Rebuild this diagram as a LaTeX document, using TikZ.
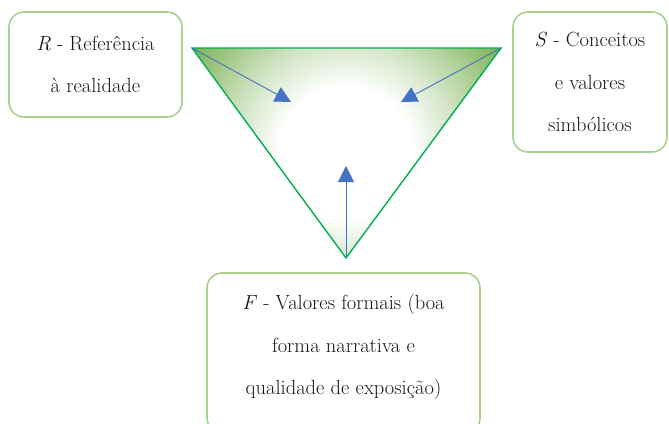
\documentclass[tikz,border=0pt]{standalone}
\usepackage{fontspec}
\usetikzlibrary{arrows.meta}
\definecolor{boxgreen}{HTML}{A9D18E}
\definecolor{edgegreen}{HTML}{00B050}
\definecolor{cornergreen}{HTML}{72AB48}
\definecolor{arrblue}{HTML}{4472C4}
\pgfdeclareradialshading{trishade}{\pgfpoint{0bp}{0bp}}{color(0bp)=(white); color(8.5bp)=(white); color(14bp)=(cornergreen!30!white); color(25bp)=(cornergreen); color(50bp)=(cornergreen)}
\begin{document}
\begin{tikzpicture}[x=1pt,y=-1pt,
  box/.style={draw=boxgreen,line width=1.6pt,rounded corners=15pt,fill=white,align=center,inner sep=0pt},
  txt/.style={font=\fontsize{20.5}{42.5}\selectfont,align=center,text=black!90},
  arr/.style={draw=arrblue,line width=0.9pt,-{Triangle[length=16pt,width=16pt]}}]
\useasboundingbox (0,0) rectangle (669,423);
\coordinate (A) at (192,48);
\coordinate (B) at (501,48);
\coordinate (C) at (346,258);
\begin{scope}
\clip (A) -- (B) -- (C) -- cycle;
\path[shade,shading=trishade] (346,153) circle (195pt);
\end{scope}
\draw[edgegreen,line width=1.4pt,line join=miter] (A) -- (B) -- (C) -- cycle;
\coordinate (a1) at (291,102);
\coordinate (a2) at (401,102);
\coordinate (a3) at (346,166);
\draw[arr] (A) -- (a1);
\draw[arr] (B) -- (a2);
\draw[arr] (C) -- (a3);
\node[box,txt,minimum width=173pt,minimum height=105pt] (R) at (95.5,64.5) {\textit{R} - Referência\\à realidade};
\node[box,txt,minimum width=154pt,minimum height=140pt] (S) at (590,82) {\textit{S} - Conceitos\\e valores\\simbólicos};
\node[box,minimum width=273pt,minimum height=160pt] (F) at (343.5,353) {};
\node[txt] (Ft) at (343.5,347) {\textit{F} - Valores formais (boa\\forma narrativa e\\qualidade de exposição)};
\end{tikzpicture}
\end{document}
